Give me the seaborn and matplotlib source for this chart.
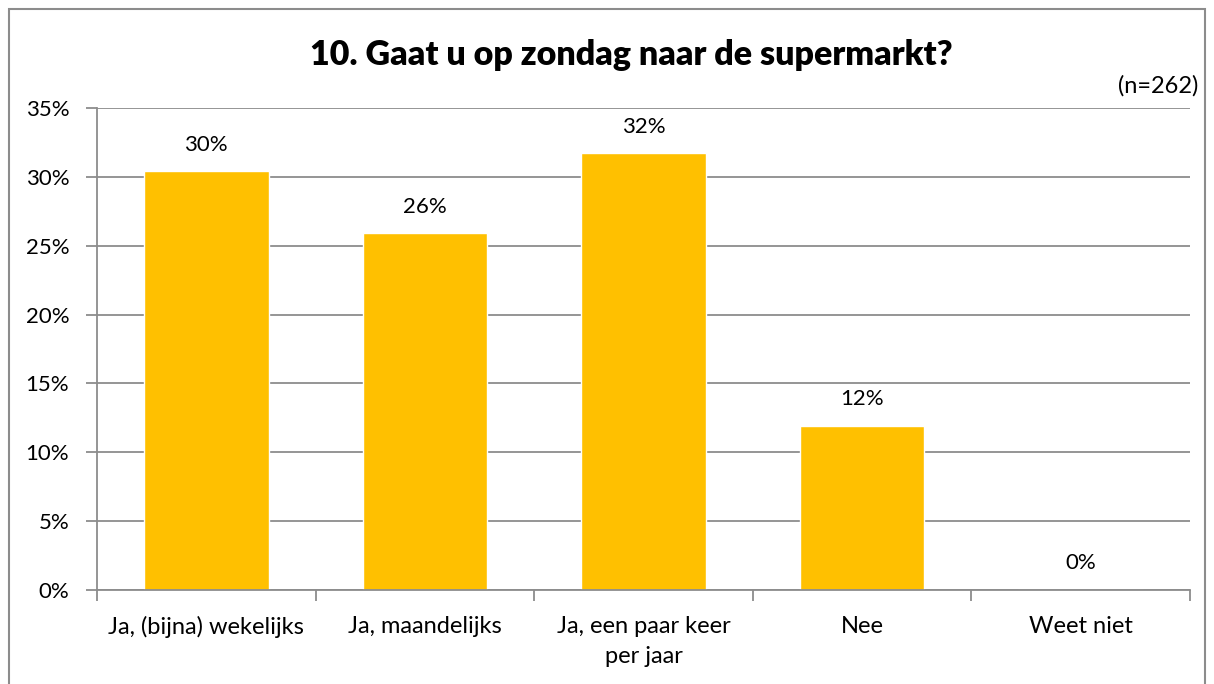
import matplotlib
matplotlib.use("Agg")
import matplotlib.pyplot as plt
import seaborn as sns
import pandas as pd
import numpy as np
from matplotlib.patches import Rectangle

categories = ["Ja, (bijna) wekelijks", "Ja, maandelijks", "Ja, een paar keer\nper jaar", "Nee", "Weet niet"]
values = [30.4, 25.9, 31.7, 11.9, 0.0]
yticks = [0, 5, 10, 15, 20, 25, 30, 35]
title = "10. Gaat u op zondag naar de supermarkt?"
note = "(n=262)"

sns.set_theme(style="white")
plt.rcParams['font.family'] = ['Lato', 'DejaVu Sans']

W, H = 1214, 684
fig = plt.figure(figsize=(W / 100, H / 100), dpi=100)
ax = fig.add_axes([97 / W, (H - 590) / H, (1190 - 97) / W, (590 - 108) / H])

df = pd.DataFrame({"cat": categories, "val": values})
sns.barplot(data=df, x="cat", y="val", color="#FFC000", saturation=1, width=0.57, ax=ax)

grid_c = "#8c8c8c"
ax.set_ylim(0, 35)
ax.set_xlim(-0.5, len(categories) - 0.5)
ax.set_yticks(yticks)
ax.set_yticklabels([f"{t}%" for t in yticks], fontsize=16, color="#000000")
ax.set_xticks(range(len(categories)))
ax.set_xticklabels(categories, fontsize=17, color="#000000", linespacing=1.5)
ax.set_xticks(np.arange(-0.5, len(categories), 1.0), minor=True)
ax.tick_params(axis="x", which="major", length=0, pad=19)
ax.tick_params(axis="x", which="minor", length=8, width=1.3, color=grid_c, direction="out", bottom=True)
ax.tick_params(axis="y", which="major", length=8, width=1.3, color=grid_c, direction="out", left=True, pad=12)
ax.set_xlabel("")
ax.set_ylabel("")
ax.set_axisbelow(True)
ax.yaxis.grid(True, color=grid_c, linewidth=1.3)
ax.xaxis.grid(False)
for s in ["top", "right"]:
    ax.spines[s].set_visible(False)
for s in ["left", "bottom"]:
    ax.spines[s].set_visible(True)
    ax.spines[s].set_color(grid_c)
    ax.spines[s].set_linewidth(1.3)

for cont in ax.containers:
    ax.bar_label(cont, labels=[f"{v:.0f}%" for v in values], padding=12, fontsize=16, color="#000000")

fig.text(631 / W, 1 - 55 / H, title, ha="center", va="center", fontsize=24.5, fontweight="heavy", color="#000000")
fig.text(1198 / W, 1 - 86 / H, note, ha="right", va="center", fontsize=17, color="#000000")

fig.patches.append(Rectangle((9 / W, -0.1), (1205 - 9) / W, 1.1 - 9 / H, transform=fig.transFigure,
                             fill=False, edgecolor="#8c8c8c", linewidth=1.5))

fig.savefig("out.png", dpi=100, facecolor="white")
